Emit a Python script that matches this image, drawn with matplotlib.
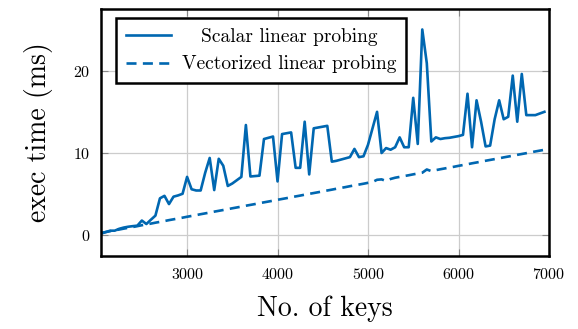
import numpy as np
import matplotlib
matplotlib.use("Agg")
import matplotlib.pyplot as plt
import matplotlib.transforms as mtransforms

plt.rcParams['font.family'] = 'serif'
plt.rcParams['font.serif'] = ['cmr10', 'DejaVu Serif']
plt.rcParams['mathtext.fontset'] = 'cm'
plt.rcParams['axes.formatter.use_mathtext'] = True

# number of keys, 2048 .. 6948 in steps of 50
keys = np.arange(2048, 6949, 50)

scalar_ms = [
    0.20, 0.40, 0.57, 0.57, 0.80, 0.95, 1.05, 1.12, 1.18, 1.80,
    1.38, 1.90, 2.40, 4.50, 4.80, 3.80, 4.70, 4.85, 5.05, 7.10,
    5.60, 5.45, 5.45, 7.60, 9.40, 5.50, 9.30, 8.45, 6.00, 6.30,
    6.70, 7.10, 13.40, 7.15, 7.20, 7.25, 11.70, 11.85, 12.00, 6.55,
    12.30, 12.40, 12.50, 8.20, 8.20, 13.80, 7.40, 13.00, 13.10, 13.20,
    13.30, 8.95, 9.05, 9.20, 9.35, 9.50, 10.50, 9.50, 9.60, 11.00,
    13.00, 15.00, 10.00, 10.60, 10.40, 10.70, 11.90, 10.70, 10.70, 16.70,
    11.10, 25.00, 20.90, 11.40, 11.90, 11.70, 11.80, 11.85, 11.95, 12.05,
    12.20, 17.20, 10.70, 16.40, 13.80, 10.80, 10.90, 14.10, 16.40, 14.10,
    14.40, 19.40, 13.80, 19.60, 14.60, 14.60, 14.60, 14.80, 15.00,
]

vector_ms = [
    0.30, 0.40, 0.51, 0.61, 0.71, 0.82, 0.92, 1.02, 1.12, 1.23,
    1.33, 1.43, 1.54, 1.64, 1.74, 1.85, 1.95, 2.05, 2.15, 2.26,
    2.36, 2.46, 2.57, 2.67, 2.77, 2.88, 2.98, 3.08, 3.18, 3.29,
    3.39, 3.49, 3.60, 3.70, 3.80, 3.91, 4.01, 4.11, 4.21, 4.32,
    4.42, 4.52, 4.63, 4.73, 4.83, 4.94, 5.04, 5.14, 5.24, 5.35,
    5.45, 5.55, 5.66, 5.76, 5.86, 5.97, 6.07, 6.17, 6.27, 6.38,
    6.48, 6.75, 6.80, 6.60, 6.85, 7.00, 7.10, 7.20, 7.30, 7.41,
    7.51, 7.61, 8.00, 7.80, 7.92, 8.03, 8.13, 8.23, 8.33, 8.44,
    8.54, 8.64, 8.75, 8.85, 8.95, 9.06, 9.16, 9.26, 9.36, 9.47,
    9.57, 9.67, 9.78, 9.88, 9.98, 10.09, 10.19, 10.29, 10.39,
]

labels = ['Scalar linear probing', 'Vectorized linear probing']
color = '#0067b1'

fig = plt.figure(figsize=(5.78, 3.29), dpi=100)
ax = fig.add_axes([0.175, 0.222, 0.775, 0.751])

ax.plot(keys, scalar_ms, color=color, lw=1.9, label=labels[0])
ax.plot(keys, vector_ms, color=color, lw=1.9, dashes=[3.8, 2.4], label=labels[1])

ax.set_xlim(2048, 7000)
ax.set_ylim(-2.5, 27.5)
ax.set_xticks([3000, 4000, 5000, 6000, 7000])
ax.set_yticks([0, 10, 20])
ax.grid(True, color='#cccccc', lw=0.9)
ax.set_axisbelow(True)
ax.tick_params(direction='in', length=5, width=0.8, color='#888888',
               top=True, right=True, labelsize=11.5, pad=8)
for s in ax.spines.values():
    s.set_linewidth(1.8)

ax.set_xlabel('No. of keys', fontsize=20, labelpad=10)
ax.set_ylabel('exec time (ms)', fontsize=20, labelpad=14)

leg = ax.legend(loc='upper left', bbox_to_anchor=(0.033, 0.962), fontsize=14,
                frameon=True, fancybox=False, framealpha=1, edgecolor='black',
                handlelength=2.35, handletextpad=0.55, borderpad=0.5,
                borderaxespad=0, labelspacing=0.48)
leg.get_frame().set_linewidth(1.8)

# centre the shorter legend label like pgfplots does
fig.canvas.draw()
r = fig.canvas.get_renderer()
w0 = leg.texts[0].get_window_extent(r).width
w1 = leg.texts[1].get_window_extent(r).width
t0 = leg.texts[0]
t0.set_transform(t0.get_transform() + mtransforms.Affine2D().translate((w1 - w0) / 2, 0))

fig.savefig('out.png', dpi=100)
